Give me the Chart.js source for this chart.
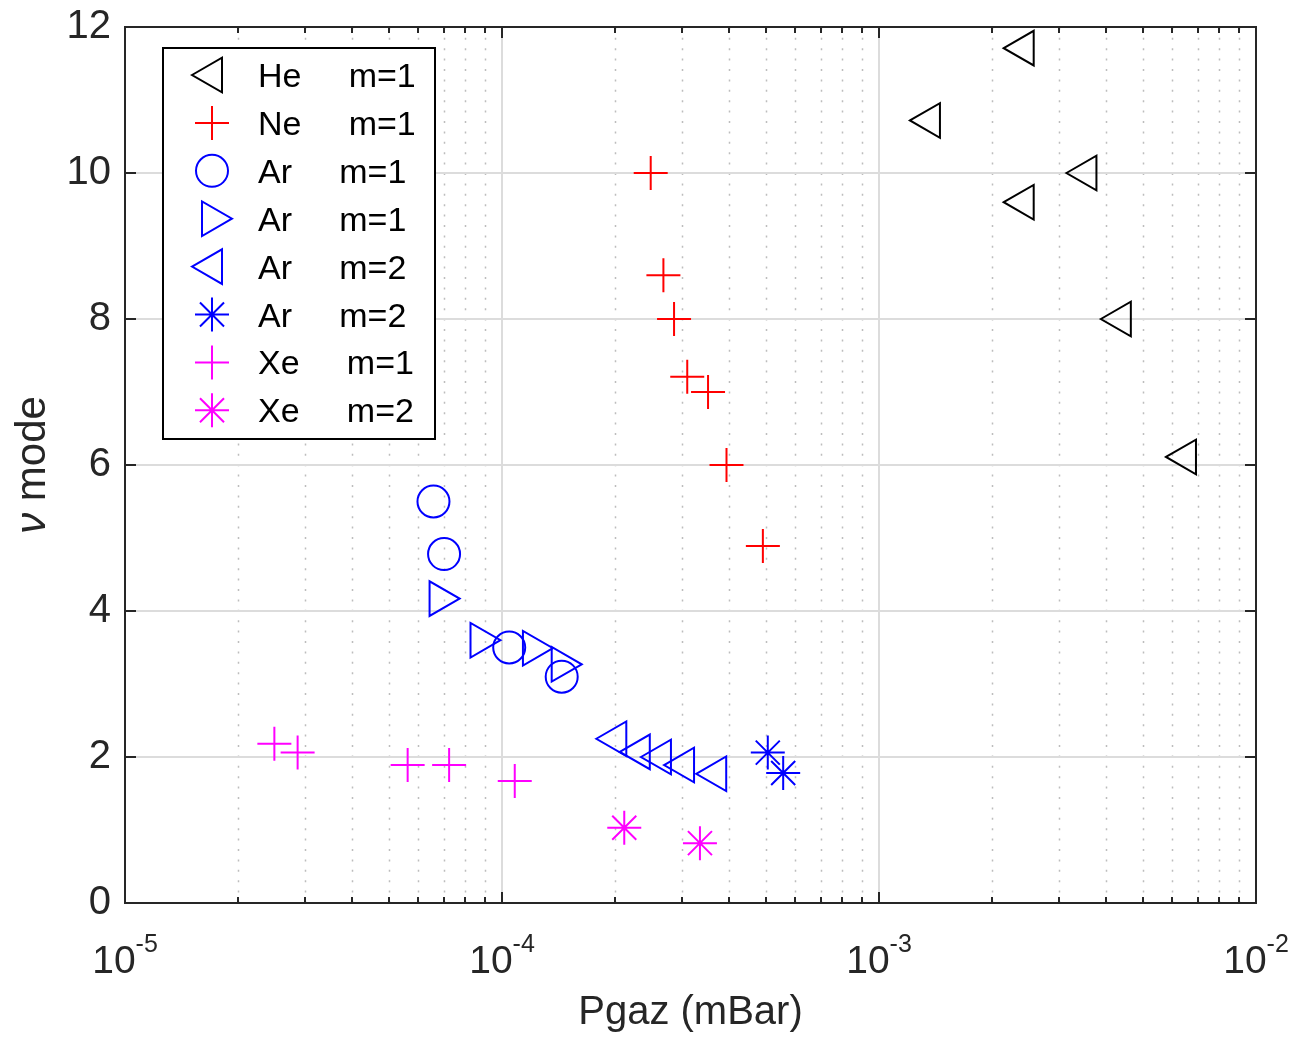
<!DOCTYPE html>
<html>
<head>
<meta charset="utf-8">
<title>nu mode vs Pgaz</title>
<script src="https://cdn.jsdelivr.net/npm/chart.js@4.4.1/dist/chart.umd.min.js"></script>
<style>
  html, body { margin: 0; padding: 0; background: #fff; }
  #wrap { width: 1301px; height: 1039px; }
</style>
</head>
<body>
<div id="wrap"><canvas id="modeChart" width="1301" height="1039"></canvas></div>
<script>
// valeurs (Pgaz en mBar, nu mode)
const heP = [2.42e-3, 1.365e-3, 3.55e-3, 2.42e-3, 4.38e-3, 6.52e-3];
const heNu = [11.71, 10.72, 10.0, 9.60, 8.0, 6.11];

const neP = [2.48e-4, 2.68e-4, 2.86e-4, 3.10e-4, 3.52e-4, 3.94e-4, 4.92e-4];
const neNu = [10.0, 8.60, 8.0, 7.21, 7.0, 6.0, 4.89];

const arCircP = [6.58e-5, 7.02e-5, 1.045e-4, 1.44e-4];
const arCircNu = [5.50, 4.78, 3.50, 3.10];

const arRightP = [6.83e-5, 8.77e-5, 1.208e-4, 1.44e-4];
const arRightNu = [4.17, 3.60, 3.49, 3.27];

const arLeftP = [2.01e-4, 2.32e-4, 2.64e-4, 3.04e-4, 3.70e-4];
const arLeftNu = [2.25, 2.07, 2.0, 1.89, 1.77];

const arStarP = [5.07e-4, 5.57e-4];
const arStarNu = [2.06, 1.78];

const xePlusP = [2.49e-5, 2.87e-5, 5.62e-5, 7.24e-5, 1.081e-4];
const xePlusNu = [2.18, 2.06, 1.89, 1.89, 1.67];

const xeStarP = [2.11e-4, 3.35e-4];
const xeStarNu = [1.03, 0.82];

const legendLabels = ["He     m=1", "Ne     m=1", "Ar     m=1", "Ar     m=1",
                      "Ar     m=2", "Ar     m=2", "Xe     m=1", "Xe     m=2"];
const xTickExp = [-5, -4, -3, -2];

const FONT = "'Liberation Sans', Arial, Helvetica, sans-serif";
const AXC = "#262626";

function pts(xs, ys) {
  return xs.map((x, i) => ({ x: x, y: ys[i] }));
}

function ds(label, xs, ys, color, style, rot, r) {
  return {
    label: label,
    data: pts(xs, ys),
    showLine: false,
    borderColor: color,
    backgroundColor: "rgba(0,0,0,0)",
    borderWidth: 2,
    pointStyle: style,
    rotation: rot,
    pointRadius: r,
    pointHoverRadius: r
  };
}

const datasets = [
  ds(legendLabels[0], heP, heNu, "#000000", "triangle", -90, 20),
  ds(legendLabels[1], neP, neNu, "#ff0000", "cross", 0, 17),
  ds(legendLabels[2], arCircP, arCircNu, "#0000ff", "circle", 0, 16),
  ds(legendLabels[3], arRightP, arRightNu, "#0000ff", "triangle", 90, 20),
  ds(legendLabels[4], arLeftP, arLeftNu, "#0000ff", "triangle", -90, 20),
  ds(legendLabels[5], arStarP, arStarNu, "#0000ff", "star", 0, 17),
  ds(legendLabels[6], xePlusP, xePlusNu, "#ff00ff", "cross", 0, 17),
  ds(legendLabels[7], xeStarP, xeStarNu, "#ff00ff", "star", 0, 17)
];

// petit dessin de marqueur pour la legende
function marker(ctx, d, x, y) {
  const r = d.pointRadius;
  ctx.save();
  ctx.strokeStyle = d.borderColor;
  ctx.lineWidth = 2;
  ctx.beginPath();
  if (d.pointStyle === "circle") {
    ctx.arc(x, y, r, 0, Math.PI * 2);
  } else if (d.pointStyle === "triangle") {
    let a = d.rotation * Math.PI / 180;
    for (let k = 0; k < 3; k++) {
      const px = x + Math.sin(a) * r, py = y - Math.cos(a) * r;
      if (k === 0) ctx.moveTo(px, py); else ctx.lineTo(px, py);
      a += 2 * Math.PI / 3;
    }
    ctx.closePath();
  } else {
    ctx.moveTo(x - r, y); ctx.lineTo(x + r, y);
    ctx.moveTo(x, y - r); ctx.lineTo(x, y + r);
    if (d.pointStyle === "star") {
      const q = r * Math.SQRT1_2;
      ctx.moveTo(x - q, y - q); ctx.lineTo(x + q, y + q);
      ctx.moveTo(x - q, y + q); ctx.lineTo(x + q, y - q);
    }
  }
  ctx.stroke();
  ctx.restore();
}

const matlabAxes = {
  id: "matlabAxes",
  beforeDatasetsDraw(chart) {
    const ctx = chart.ctx, a = chart.chartArea;
    const xs = chart.scales.x, ys = chart.scales.y;
    ctx.save();
    // grille mineure (pointillés)
    ctx.strokeStyle = "#bdbdbd";
    ctx.lineWidth = 1.5;
    ctx.setLineDash([2, 8.4]);
    for (let e = -5; e < -2; e++) {
      for (let k = 2; k <= 9; k++) {
        const px = Math.round(xs.getPixelForValue(k * Math.pow(10, e))) + 0.5;
        ctx.beginPath(); ctx.moveTo(px, a.bottom); ctx.lineTo(px, a.top); ctx.stroke();
      }
    }
    // grille majeure
    ctx.setLineDash([]);
    ctx.strokeStyle = "#dcdcdc";
    ctx.lineWidth = 2;
    for (let e = -4; e <= -3; e++) {
      const px = Math.round(xs.getPixelForValue(Math.pow(10, e)));
      ctx.beginPath(); ctx.moveTo(px, a.bottom); ctx.lineTo(px, a.top); ctx.stroke();
    }
    for (let v = 2; v <= 10; v += 2) {
      const py = Math.round(ys.getPixelForValue(v));
      ctx.beginPath(); ctx.moveTo(a.left, py); ctx.lineTo(a.right, py); ctx.stroke();
    }
    ctx.restore();
  },
  afterDatasetsDraw(chart) {
    const ctx = chart.ctx, a = chart.chartArea;
    const xs = chart.scales.x, ys = chart.scales.y;
    ctx.save();
    ctx.strokeStyle = AXC;
    ctx.lineWidth = 2;
    ctx.beginPath();
    // graduations vers l'interieur
    for (let e = -5; e <= -2; e++) {
      for (let k = 1; k <= 9; k++) {
        if (e === -2 && k > 1) break;
        const len = k === 1 ? 11 : 6;
        const px = Math.round(xs.getPixelForValue(k * Math.pow(10, e)));
        ctx.moveTo(px, a.bottom); ctx.lineTo(px, a.bottom - len);
        ctx.moveTo(px, a.top); ctx.lineTo(px, a.top + len);
      }
    }
    for (let v = 0; v <= 12; v += 2) {
      const py = Math.round(ys.getPixelForValue(v));
      ctx.moveTo(a.left, py); ctx.lineTo(a.left + 11, py);
      ctx.moveTo(a.right, py); ctx.lineTo(a.right - 11, py);
    }
    ctx.stroke();
    ctx.strokeRect(a.left, a.top, a.right - a.left, a.bottom - a.top);

    // legende
    const lx = 163, ly = 48, lw = 272, lh = 391;
    ctx.fillStyle = "#ffffff";
    ctx.fillRect(lx, ly, lw, lh);
    ctx.strokeStyle = "#000000";
    ctx.strokeRect(lx, ly, lw, lh);
    ctx.font = "34px " + FONT;
    ctx.fillStyle = "#000000";
    ctx.textAlign = "left";
    ctx.textBaseline = "alphabetic";
    chart.data.datasets.forEach((d, i) => {
      const ry = 75 + i * 47.9;
      marker(ctx, d, 212, ry);
      ctx.fillText(d.label, 258, ry + 12);
    });
    ctx.restore();
  },
  afterDraw(chart) {
    const ctx = chart.ctx, a = chart.chartArea, xs = chart.scales.x;
    ctx.save();
    ctx.fillStyle = AXC;
    ctx.textBaseline = "alphabetic";
    ctx.textAlign = "left";
    xTickExp.forEach(e => {
      const px = xs.getPixelForValue(Math.pow(10, e));
      ctx.font = "39px " + FONT;
      const wb = ctx.measureText("10").width;
      ctx.font = "25px " + FONT;
      const ws = ctx.measureText(String(e)).width;
      const x0 = px - (wb + ws) / 2;
      ctx.font = "39px " + FONT;
      ctx.fillText("10", x0, 973);
      ctx.font = "25px " + FONT;
      ctx.fillText(String(e), x0 + wb, 952);
    });
    ctx.font = "40px " + FONT;
    ctx.textAlign = "center";
    ctx.fillText("Pgaz (mBar)", (a.left + a.right) / 2, 1024);
    // titre vertical : nu en italique
    ctx.translate(33, (a.top + a.bottom) / 2);
    ctx.rotate(-Math.PI / 2);
    ctx.textBaseline = "middle";
    ctx.textAlign = "left";
    ctx.font = "italic 42px " + FONT;
    const wNu = ctx.measureText("\u03bd ").width;
    ctx.font = "42px " + FONT;
    const wMode = ctx.measureText("mode").width;
    const x0 = -(wNu + wMode) / 2;
    ctx.font = "italic 42px " + FONT;
    ctx.fillText("\u03bd", x0, 0);
    ctx.font = "42px " + FONT;
    ctx.fillText("mode", x0 + wNu, 0);
    ctx.restore();
  }
};

new Chart(document.getElementById("modeChart").getContext("2d"), {
  type: "scatter",
  data: { datasets: datasets },
  options: {
    responsive: false,
    animation: false,
    devicePixelRatio: 1,
    layout: { padding: { top: 27, right: 45, left: 0, bottom: 0 } },
    scales: {
      x: {
        type: "logarithmic",
        min: 1e-5,
        max: 1e-2,
        ticks: { display: false },
        grid: { display: false },
        border: { display: false },
        afterFit: s => {
          s.height = 136;
          s.paddingLeft = 0; s.paddingRight = 0;
        }
      },
      y: {
        min: 0,
        max: 12,
        ticks: { stepSize: 2, padding: 14, color: AXC, font: { family: FONT, size: 40 } },
        grid: { display: false, drawTicks: false },
        border: { display: false },
        afterFit: s => {
          s.width = 125;
          s.paddingTop = 0; s.paddingBottom = 0;
        }
      }
    },
    plugins: {
      legend: { display: false },
      tooltip: { enabled: false }
    }
  },
  plugins: [matlabAxes]
});
</script>
</body>
</html>
